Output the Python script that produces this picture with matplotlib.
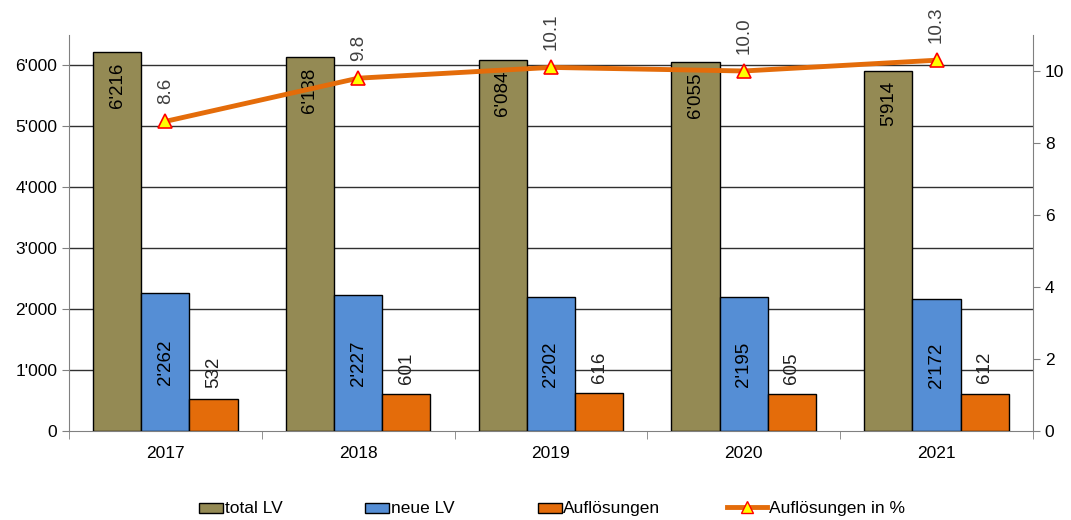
import numpy as np
import matplotlib.pyplot as plt
from matplotlib.lines import Line2D
from matplotlib.patches import Patch, Rectangle
from matplotlib.legend_handler import HandlerPatch

plt.rcParams['font.family'] = ['Liberation Sans', 'DejaVu Sans']

years = ["2017", "2018", "2019", "2020", "2021"]
total_lv = [6216, 6138, 6084, 6055, 5914]
neue_lv = [2262, 2227, 2202, 2195, 2172]
aufloesungen = [532, 601, 616, 605, 612]
aufl_pct = [8.6, 9.8, 10.1, 10.0, 10.3]

c_total = "#948A54"
c_neue = "#558ED5"
c_aufl = "#E46C0A"

def fmt(v):
    return f"{v:,}".replace(",", "'")

fig = plt.figure(figsize=(10.71, 5.2), dpi=100)
ax = fig.add_axes([0.0644, 0.1712, 0.9001, 0.7615])
ax2 = ax.twinx()

x = np.arange(len(years))
w = 0.25
fs = 12.5
fs_lab = 13.5

for v in range(1000, 6001, 1000):
    ax.axhline(v, color="#303030", linewidth=1.0, zorder=1)

for vals, off, col in [(total_lv, -w, c_total), (neue_lv, 0, c_neue), (aufloesungen, w, c_aufl)]:
    ax.bar(x + off, vals, w, color=col, edgecolor="black", linewidth=1.0, zorder=3)

for i in range(len(years)):
    # total: inside end, neue: centred, Auflösungen: above the bar
    ax.text(x[i] - w, total_lv[i] - 170, fmt(total_lv[i]), rotation=90,
            ha="center", va="top", fontsize=fs_lab, zorder=4)
    ax.text(x[i], neue_lv[i] / 2, fmt(neue_lv[i]), rotation=90,
            ha="center", va="center", fontsize=fs_lab, zorder=4)
    ax.text(x[i] + w, aufloesungen[i] + 170, fmt(aufloesungen[i]), rotation=90,
            ha="center", va="bottom", fontsize=fs_lab, color="#202020", zorder=4)

ax.set_xlim(-0.5, len(years) - 0.5)
ax.set_ylim(0, 6500)
ax.set_yticks(np.arange(0, 6001, 1000))
ax.set_yticklabels([fmt(v) for v in range(0, 6001, 1000)], fontsize=fs)
ax.set_xticks(x)
ax.set_xticklabels(years, fontsize=fs)
ax.tick_params(axis="x", length=0, pad=11)
ax.set_xticks(np.arange(-0.5, len(years), 1.0), minor=True)
ax.tick_params(axis="x", which="minor", length=6, color="#808080")
ax.tick_params(axis="y", length=5, color="#808080")
ax.spines["top"].set_visible(False)
ax.spines["right"].set_visible(False)
ax.spines["left"].set_color("#808080")
ax.spines["bottom"].set_color("#808080")

ax2.plot(x, aufl_pct, color=c_aufl, linewidth=3.5, marker="^", markersize=10,
         markerfacecolor="#FFFF00", markeredgecolor="#FF0000", markeredgewidth=1.2, zorder=5)
for i in range(len(years)):
    ax2.text(x[i], aufl_pct[i] + 0.47, f"{aufl_pct[i]:.1f}", rotation=90,
             ha="center", va="bottom", fontsize=fs_lab, color="#404040")
ax2.set_ylim(0, 11)
ax2.set_yticks(np.arange(0, 11, 2))
ax2.tick_params(axis="y", length=5, color="#808080", labelsize=fs)
ax2.spines["top"].set_visible(False)
ax2.spines["left"].set_visible(False)
ax2.spines["bottom"].set_visible(False)
ax2.spines["right"].set_color("#808080")


def small_box(legend, orig_handle, xdescent, ydescent, width, height, fontsize):
    return Rectangle((-xdescent + 0.4 * width, -ydescent + 0.05 * height),
                     0.6 * width, 0.8 * height)


handles = [
    Patch(facecolor=c_total, edgecolor="black", label="total LV"),
    Patch(facecolor=c_neue, edgecolor="black", label="neue LV"),
    Patch(facecolor=c_aufl, edgecolor="black", label="Auflösungen"),
    Line2D([0], [0], color=c_aufl, linewidth=3.5, marker="^", markersize=9,
           markerfacecolor="#FFFF00", markeredgecolor="#FF0000", label="Auflösungen in %"),
]
fig.legend(handles=handles, loc="center", bbox_to_anchor=(0.508, 0.022), ncol=4,
           frameon=False, fontsize=fs, handlelength=2.3, handletextpad=0.1,
           columnspacing=3.85, handleheight=0.8,
           handler_map={Patch: HandlerPatch(patch_func=small_box)})

fig.savefig("out.png", dpi=100)
